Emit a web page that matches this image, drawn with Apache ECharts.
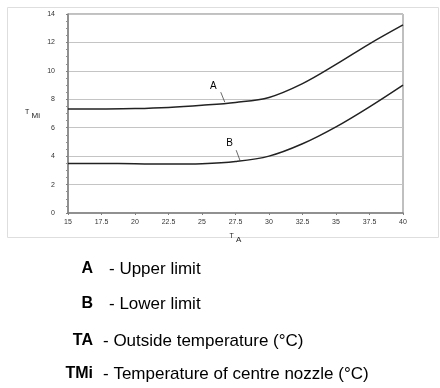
<!DOCTYPE html>
<html><head><meta charset="utf-8">
<script src="https://cdn.jsdelivr.net/npm/echarts@6/dist/echarts.min.js"></script>
<style>html,body{margin:0;padding:0;background:#fff}#c{width:440px;height:388px}</style>
</head><body><div id="c"></div>
<script>
const xValues = [15, 17.5, 20, 22.5, 25, 27.5, 30, 32.5, 35, 37.5, 40];
const upperLimit = [7.31, 7.32, 7.35, 7.43, 7.58, 7.78, 8.13, 9.1, 10.45, 11.9, 13.23];
const lowerLimit = [3.48, 3.48, 3.47, 3.44, 3.47, 3.62, 4.0, 4.87, 6.06, 7.47, 9.0];
const xTicks = ['15', '17.5', '20', '22.5', '25', '27.5', '30', '32.5', '35', '37.5', '40'];
const legendKeys = ['A', 'B', 'TA', 'TMi'];
const legendTexts = ['- Upper limit', '- Lower limit', '- Outside temperature (°C)', '- Temperature of centre nozzle (°C)'];

const F = 'Liberation Sans, Arial, sans-serif';
const chart = echarts.init(document.getElementById('c'), null, {renderer: 'canvas'});
const pair = (xs, ys) => xs.map((x, i) => [x, ys[i]]);

const legendY = [269, 304, 341, 374];
const legendKeyRight = [93, 93, 93, 93];
const legendTextLeft = [109, 109, 103, 103];
const graphics = [{
  type: 'rect', left: 5, top: 5, shape: {width: 431, height: 230},
  style: {fill: 'none', stroke: '#dedede', lineWidth: 1}, silent: true
}];
legendKeys.forEach((k, i) => {
  graphics.push({type: 'text', x: legendKeyRight[i], y: legendY[i],
    style: {text: k, font: 'bold 16px ' + F, fill: '#000', align: 'right', verticalAlign: 'middle'}});
  graphics.push({type: 'text', x: legendTextLeft[i], y: legendY[i],
    style: {text: legendTexts[i], font: '17px ' + F, fill: '#000', align: 'left', verticalAlign: 'middle'}});
});

const annLabel = (t) => ({show: true, position: 'inside', formatter: t, fontSize: 10, fontFamily: F, color: '#000'});

chart.setOption({
  animation: false,
  backgroundColor: '#fff',
  grid: {left: 68, top: 14, width: 335, height: 199, show: true, borderColor: '#808080', borderWidth: 1, backgroundColor: 'transparent'},
  xAxis: {
    type: 'value', min: 15, max: 40, interval: 2.5,
    name: '{t|T}{s| A}', nameLocation: 'middle', nameGap: 19,
    nameTextStyle: {rich: {t: {fontSize: 7, fontFamily: F, color: '#222', padding: [0,0,3,0]}, s: {fontSize: 8, fontFamily: F, color: '#222', padding: [4,0,0,0]}}},
    axisLine: {lineStyle: {color: '#808080', width: 1.5}},
    axisTick: {show: true, length: 2, lineStyle: {color: '#808080'}},
    axisLabel: {fontSize: 7, fontFamily: F, color: '#333', margin: 6, formatter: (v) => xTicks[xValues.indexOf(v)] ?? ''},
    splitLine: {show: false}
  },
  yAxis: {
    type: 'value', min: 0, max: 14, interval: 2,
    name: '{t|T}{s| Mi}', nameLocation: 'middle', nameGap: 28, nameRotate: 0,
    nameTextStyle: {rich: {t: {fontSize: 7, fontFamily: F, color: '#222', padding: [0,0,3,0]}, s: {fontSize: 8, fontFamily: F, color: '#222', padding: [4,0,0,0]}}},
    axisLine: {show: true, lineStyle: {color: '#808080', width: 1.5}},
    axisTick: {show: true, inside: false, length: 2, lineStyle: {color: '#808080'}},
    minorTick: {show: true, splitNumber: 4, length: 2, lineStyle: {color: '#909090'}},
    axisLabel: {fontSize: 7, fontFamily: F, color: '#333', margin: 13},
    splitLine: {show: true, lineStyle: {color: '#c4c4c4', width: 1}}
  },
  series: [
    {name: 'A', type: 'line', data: pair(xValues, upperLimit), smooth: 0.35, symbol: 'none',
      lineStyle: {color: '#222', width: 1.5},
      markLine: {silent: true, symbol: 'none', label: {show: false}, lineStyle: {color: '#444', width: 0.8, type: 'solid'},
        data: [[{coord: [26.4, 8.5]}, {coord: [26.7, 7.8]}]]},
      markPoint: {silent: true, symbol: 'circle', symbolSize: 1, itemStyle: {color: 'rgba(0,0,0,0)'}, label: annLabel('A'),
        data: [{coord: [25.85, 8.93]}]}
    },
    {name: 'B', type: 'line', data: pair(xValues, lowerLimit), smooth: 0.35, symbol: 'none',
      lineStyle: {color: '#222', width: 1.5},
      markLine: {silent: true, symbol: 'none', label: {show: false}, lineStyle: {color: '#444', width: 0.8, type: 'solid'},
        data: [[{coord: [27.55, 4.42]}, {coord: [27.85, 3.66]}]]},
      markPoint: {silent: true, symbol: 'circle', symbolSize: 1, itemStyle: {color: 'rgba(0,0,0,0)'}, label: annLabel('B'),
        data: [{coord: [27.05, 4.91]}]}
    }
  ],
  graphic: graphics
});
</script></body></html>
